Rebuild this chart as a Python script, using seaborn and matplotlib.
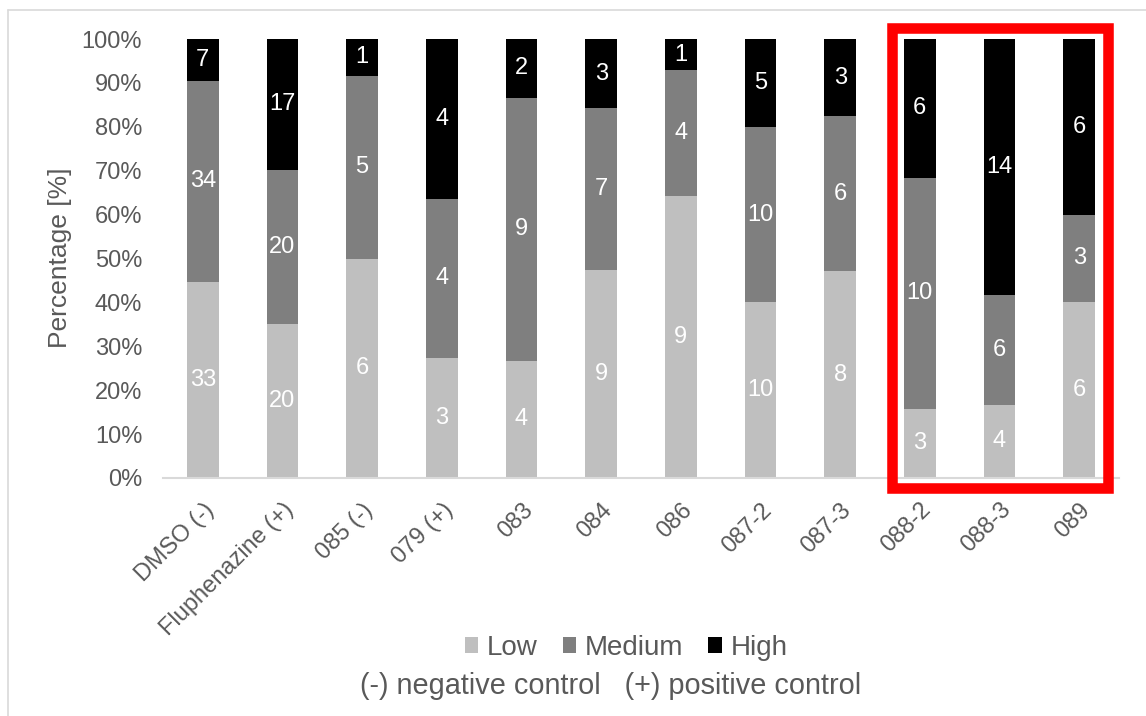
import matplotlib
matplotlib.use("Agg")
import matplotlib.pyplot as plt
from matplotlib.patches import Patch, Rectangle
from matplotlib.lines import Line2D
import numpy as np
import pandas as pd
import seaborn as sns

# Compounds tested and number of embryos per phenotype class
compounds = ["DMSO (-)", "Fluphenazine (+)", "085 (-)", "079 (+)", "083", "084",
             "086", "087-2", "087-3", "088-2", "088-3", "089"]
low = [33, 20, 6, 3, 4, 9, 9, 10, 8, 3, 4, 6]
medium = [34, 20, 5, 4, 9, 7, 4, 10, 6, 10, 6, 3]
high = [7, 17, 1, 4, 2, 3, 1, 5, 3, 6, 14, 6]
classes = ["Low", "Medium", "High"]
class_colors = ["#bfbfbf", "#7f7f7f", "#000000"]
y_ticks = [0, 10, 20, 30, 40, 50, 60, 70, 80, 90, 100]

TEXT = "#595959"
FONT = ["Liberation Sans", "DejaVu Sans"]

sns.set_theme(style="white")
plt.rcParams["font.family"] = FONT

counts = np.array([low, medium, high], dtype=float)
totals = counts.sum(axis=0)
pct = counts / totals * 100
cum = np.cumsum(pct, axis=0)

df = pd.DataFrame({
    "compound": compounds,
    "low_top": cum[0],
    "medium_top": cum[1],
    "high_top": cum[2],
})

W, H = 1146, 716
fig = plt.figure(figsize=(W / 100, H / 100), dpi=100)
ax = fig.add_axes([163 / W, (H - 478) / H, (1119 - 163) / W, (478 - 39) / H])

# Stacked 100% bars: draw cumulative tops from back to front
for col, color in zip(["high_top", "medium_top", "low_top"], class_colors[::-1]):
    sns.barplot(data=df, x="compound", y=col, color=color, width=0.4,
                saturation=1, edgecolor="none", linewidth=0, ax=ax)

# Count labels in the middle of each segment
bottoms = np.vstack([np.zeros(len(compounds)), cum[:-1]])
for k in range(3):
    for i in range(len(compounds)):
        mid = bottoms[k, i] + pct[k, i] / 2
        ax.text(i, mid, f"{int(counts[k, i])}", ha="center", va="center",
                color="white", fontsize=17, family=FONT)

ax.set_ylim(0, 100)
ax.set_xlim(-0.5, len(compounds) - 0.5)
ax.set_yticks(y_ticks)
ax.set_yticklabels([f"{t}%" for t in y_ticks])
ax.set_xlabel("")
ax.set_ylabel("")
for s in ["top", "right", "left"]:
    ax.spines[s].set_visible(False)
ax.spines["bottom"].set_color("#d9d9d9")
ax.spines["bottom"].set_linewidth(1.5)
ax.tick_params(axis="y", length=0, pad=15, labelsize=17, labelcolor=TEXT)
ax.tick_params(axis="x", length=0, pad=15, labelsize=17, labelcolor=TEXT)
plt.setp(ax.get_xticklabels(), rotation=45, ha="right", rotation_mode="anchor")

fig.text(60 / W, 1 - 258 / H, "Percentage [%]", rotation=90, ha="center",
         va="center", fontsize=19, color=TEXT, family=FONT)

# Legend and control note below the chart
handles = [Patch(facecolor=c, edgecolor="none", label=l)
           for c, l in zip(class_colors, classes)]
fig.legend(handles=handles, loc="center", bbox_to_anchor=(626 / W, 1 - 648 / H),
           ncol=3, frameon=False, fontsize=20, handlelength=0.5, handleheight=0.5,
           handletextpad=0.3, columnspacing=0.9, labelcolor=TEXT)
fig.text(611 / W, 1 - 686 / H, "(-) negative control   (+) positive control",
         ha="center", va="center", fontsize=20.8, color=TEXT, family=FONT)

# Highlight box around the last three compounds
fig.patches.append(Rectangle((891.5 / W, 1 - 488 / H), 216 / W, 460 / H,
                             transform=fig.transFigure, fill=False,
                             edgecolor="#ff0000", linewidth=7.6, zorder=10))

# Chart area border
fig.lines.append(Line2D([8 / W, 8 / W], [0, 1 - 10 / H], transform=fig.transFigure,
                        color="#d9d9d9", linewidth=1.2))
fig.lines.append(Line2D([8 / W, 1], [1 - 10 / H, 1 - 10 / H], transform=fig.transFigure,
                        color="#d9d9d9", linewidth=1.2))

fig.savefig("out.png", dpi=100, facecolor="white")
